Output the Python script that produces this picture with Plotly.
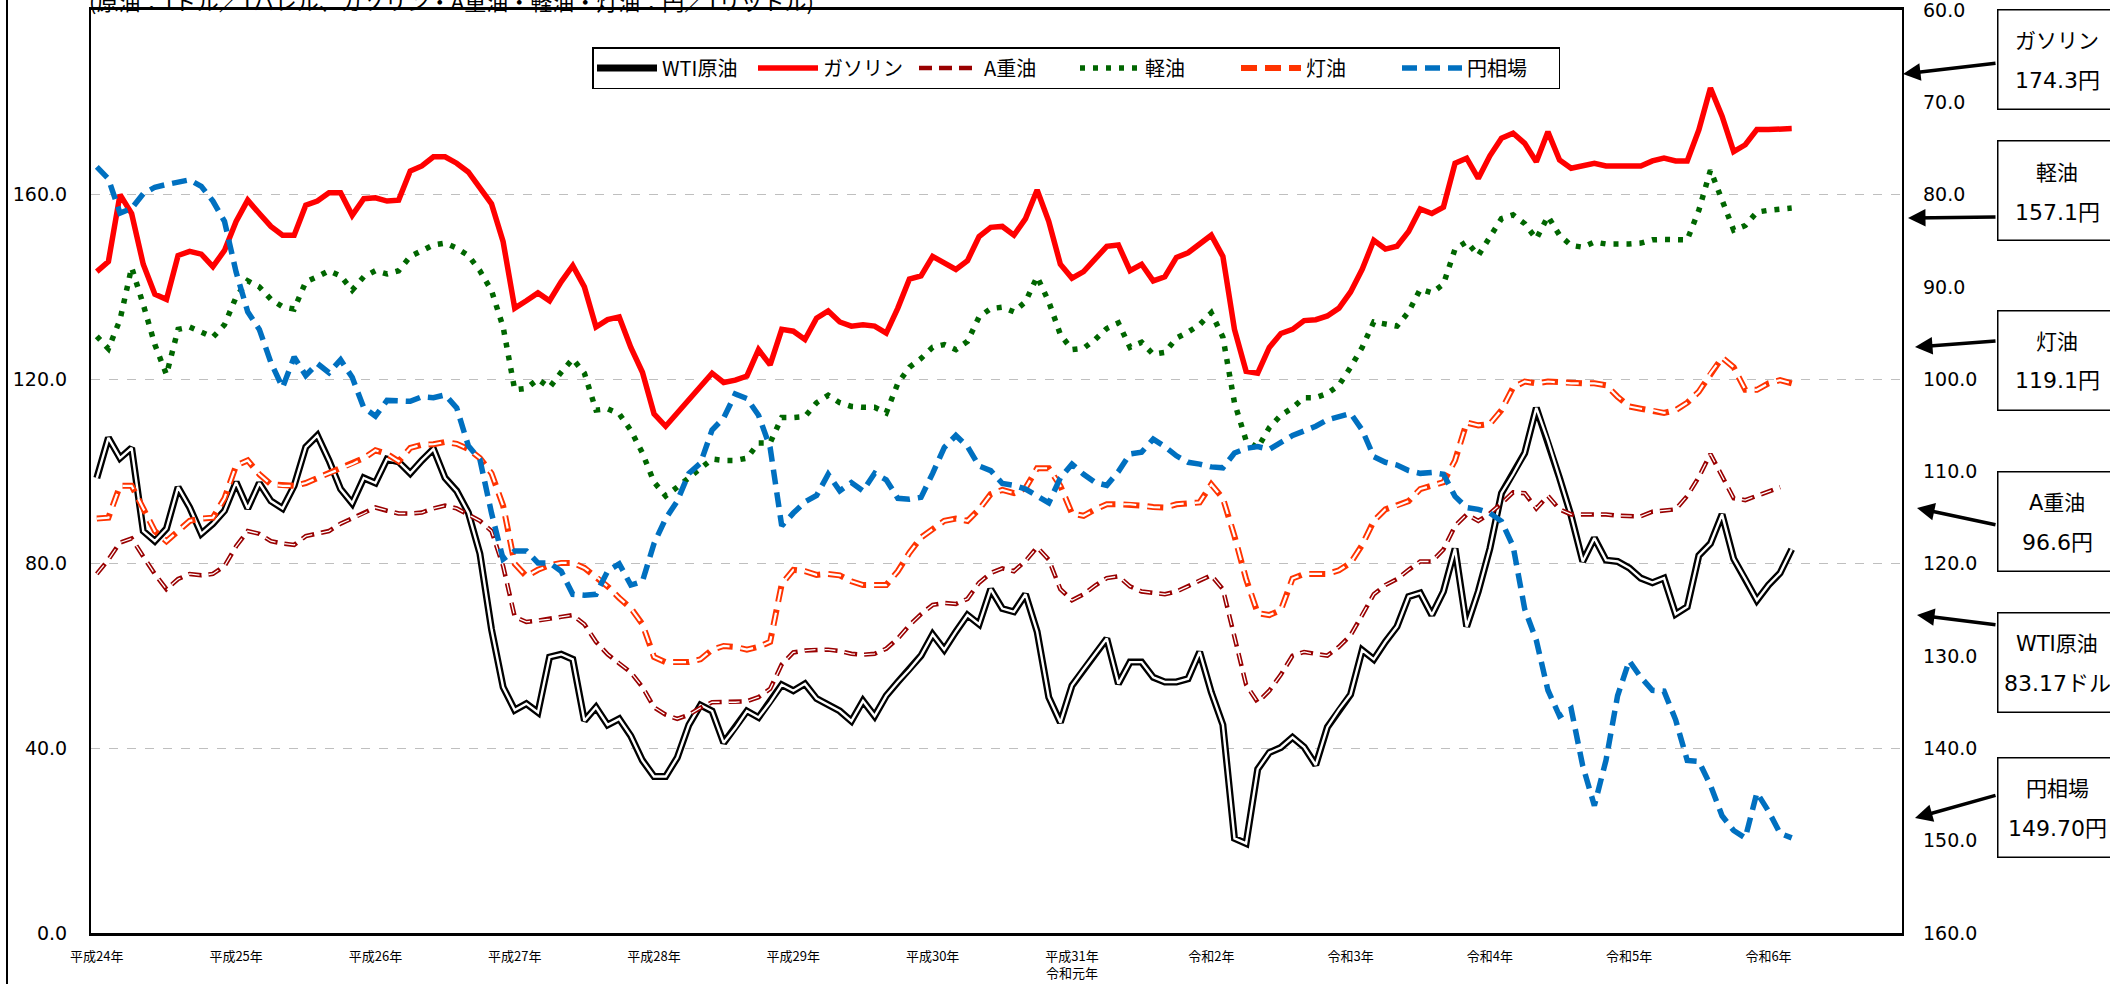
import plotly.graph_objects as go

# ---------------- data ----------------
months = [f"{2012 + k // 12}-{k % 12 + 1:02d}" for k in range(156)]
year_ticks = months[::12]
year_labels = ["平成24年", "平成25年", "平成26年", "平成27年", "平成28年", "平成29年",
               "平成30年", "平成31年<br>令和元年", "令和2年", "令和3年", "令和4年",
               "令和5年", "令和6年"]

wti = [98.6, 107.3, 102.9, 105.1, 87.1, 84.9, 87.6, 96.6, 92.2, 86.5, 88.7, 91.5, 97.7, 92.0, 97.5,
       93.6, 92.0, 96.9, 105.3, 107.8, 102.4, 96.2, 93.1, 98.6, 97.5, 102.7, 102.1,
       99.6, 102.4, 104.9, 98.6, 95.8, 91.1, 82.2, 65.8, 53.3, 48.3, 49.7, 47.8, 59.8, 60.4, 59.3,
       46.0, 48.9, 45.1, 46.4, 42.7, 37.4, 33.9, 33.9, 38.0, 45.1, 49.4,
       48.1, 41.2, 44.4, 48.1, 46.7, 50.0, 53.8, 52.5, 54.0, 50.8, 49.4, 48.1, 45.9, 50.3, 47.0,
       51.4, 54.4, 57.1, 60.1, 64.7, 61.4, 65.3, 68.9, 66.9, 74.5, 70.3,
       69.6, 73.4, 65.3, 51.1, 45.6, 53.6, 57.1, 60.4, 63.8, 54.0, 58.7, 58.7, 55.4, 54.4, 54.4,
       55.1, 60.9, 52.2, 45.1, 20.5, 19.4, 35.5, 39.1, 40.2, 42.4, 40.3,
       36.4, 44.6, 48.4, 51.7, 61.3, 59.3, 63.1, 66.4, 72.9, 73.7, 68.9, 74.0, 83.3, 66.4, 74.0,
       83.3, 95.3, 99.4, 104.0, 113.8, 106.7, 98.6, 90.4, 80.5, 85.6, 80.8,
       80.5, 79.1, 76.9, 75.9, 76.9, 69.1, 70.7, 81.8, 84.4, 90.7, 81.1, 76.7, 72.1, 75.4, 78.0, 83.17]

gasoline = [143.3, 145.5, 160.0, 155.9, 144.9, 138.4, 137.3, 146.8, 147.7, 147.1, 144.4, 147.9, 154.2,
            158.8, 155.9, 153.1, 151.2, 151.2, 157.7, 158.6, 160.4, 160.4, 155.5, 159.1, 159.3, 158.6, 158.8,
            165.1, 166.2, 168.2, 168.2, 166.8, 164.9, 161.3, 158.0, 149.8, 135.4, 137.0, 138.7, 137.0,
            141.1, 144.6, 140.0, 131.3, 132.9, 133.5, 126.9, 121.5, 112.5, 109.8, 112.7, 115.5, 118.2,
            121.3, 119.3, 119.8, 120.7, 126.4, 123.1, 130.8, 130.4, 128.6, 133.2, 134.8, 132.4, 131.5,
            131.8, 131.5, 130.0, 135.4, 141.7, 142.4, 146.6, 145.3, 143.8, 145.7, 150.9, 152.9, 153.1,
            151.2, 154.8, 161.0, 154.2, 144.9, 141.9, 143.3, 146.0, 148.8, 149.1, 143.5, 144.9, 141.3,
            142.2, 146.4, 147.4, 149.3, 151.2, 146.6, 130.8, 121.7, 121.3, 126.9, 129.9, 130.8, 132.7,
            132.9, 133.7, 135.4, 138.9, 143.8, 150.1, 148.2, 148.8, 152.0, 156.9, 155.9, 157.3, 166.8,
            167.9, 163.5, 168.4, 172.2, 173.3, 171.1, 167.1, 173.6, 167.5, 165.7, 166.4, 166.8, 166.2,
            166.2, 166.2, 166.2, 167.3, 167.9, 167.3, 167.3, 174.0, 183.1, 177.0, 169.3, 170.8, 174.1,
            174.1, 174.1, 174.3]

a_heavy = [77.8, 80.9, 84.6, 85.5, 81.6, 77.8, 74.5, 76.7, 77.8, 77.5, 77.8, 79.5, 83.8, 87.1, 86.5,
           84.9, 84.4, 84.1, 86.0, 86.5, 87.1, 88.7, 89.8, 90.9, 92.2, 91.5, 90.9,
           90.9, 91.1, 92.0, 92.6, 92.0, 90.7, 89.3, 87.1, 79.5, 68.5, 67.4, 67.7, 68.0, 68.5, 68.9,
           66.9, 63.1, 60.4, 58.4, 56.5, 53.3, 48.9, 47.3, 46.4, 47.3, 48.8,
           50.0, 50.0, 50.0, 50.2, 51.1, 52.9, 58.2, 60.8, 61.2, 61.4, 61.4, 61.1, 60.5, 60.3, 60.5,
           61.6, 63.8, 66.7, 69.1, 71.1, 71.5, 71.3, 72.4, 75.9, 78.0, 79.0,
           78.4, 80.6, 83.6, 80.9, 74.5, 72.1, 73.4, 75.3, 76.9, 77.3, 75.1, 74.0, 73.7, 73.4, 74.0,
           75.1, 76.4, 77.5, 74.5, 64.2, 53.8, 50.0, 52.5, 56.0, 60.1, 60.9,
           60.4, 60.1, 62.0, 64.5, 68.9, 73.4, 75.4, 76.7, 78.7, 80.5, 80.5, 83.1, 88.2, 90.7, 89.3,
           90.9, 93.1, 95.5, 95.3, 92.0, 94.7, 91.8, 90.7, 90.7, 90.7, 90.7,
           90.4, 90.4, 90.3, 91.3, 91.5, 91.8, 94.7, 98.8, 103.8, 99.1, 94.2, 93.8, 94.7, 95.7, 96.6]

diesel = [129.3, 126.6, 132.9, 144.2, 136.2, 127.5, 121.0, 130.8, 131.3, 130.2, 129.1, 131.8, 137.8,
          141.3, 140.0, 137.3, 135.7, 135.2, 141.1, 142.2, 143.5, 142.4, 139.3, 142.2, 143.5, 142.8, 143.5,
          146.6, 147.9, 149.1, 149.5, 148.4, 146.8, 143.5, 139.2, 131.3, 117.7, 118.0, 120.0, 118.2,
          121.5, 124.4, 121.3, 113.3, 113.6, 112.5, 108.9, 104.0, 97.7, 94.7, 96.6, 98.6, 100.7,
          102.7, 102.4, 102.4, 102.9, 106.2, 106.2, 111.7, 111.7, 111.9, 114.9, 116.5, 114.9, 114.1,
          113.9, 113.9, 112.7, 119.1, 122.6, 124.5, 126.9, 127.5, 126.4, 128.2, 133.5, 135.3, 135.6,
          134.6, 136.8, 142.2, 136.8, 129.7, 126.4, 126.7, 128.6, 131.0, 132.2, 126.9, 128.0, 125.4,
          125.8, 128.9, 130.2, 131.8, 134.4, 129.1, 114.9, 106.7, 105.1, 109.5, 112.2, 113.8, 116.0,
          116.0, 116.9, 118.7, 122.6, 126.9, 132.4, 131.8, 131.5, 134.6, 139.5, 138.7, 140.6, 148.2,
          149.8, 146.8, 150.9, 154.8, 155.6, 153.7, 150.4, 155.3, 151.2, 149.0, 148.6, 149.7, 149.3,
          149.2, 149.3, 149.5, 150.2, 150.3, 150.3, 150.2, 156.6, 165.3, 158.8, 152.3, 153.3, 156.2,
          156.6, 156.8, 157.1]

kerosene = [89.8, 90.0, 96.9, 96.9, 92.0, 87.1, 84.9, 87.1, 89.3, 89.8, 90.0, 94.2, 101.3, 102.4, 99.4,
            97.2, 96.9, 96.9, 97.5, 98.6, 99.6, 100.7, 101.6, 102.9, 104.6, 103.8, 102.2,
            105.1, 105.8, 105.9, 106.4, 106.0, 104.9, 102.9, 99.6, 92.6, 80.0, 77.3, 78.7, 79.7, 80.2,
            80.2, 79.1, 77.3, 75.1, 72.6, 70.4, 66.9, 59.8, 58.7, 58.7, 58.7, 59.3,
            61.4, 62.2, 62.0, 61.4, 62.0, 63.1, 75.6, 78.7, 78.4, 77.6, 77.8, 77.5, 76.2, 75.4, 75.4,
            75.4, 78.4, 82.4, 85.7, 87.6, 89.3, 89.8, 89.3, 91.8, 95.1, 96.0,
            95.3, 96.4, 100.7, 100.7, 96.9, 90.9, 90.4, 91.8, 92.9, 92.9, 92.9, 92.6, 92.3, 92.2, 92.9,
            93.1, 93.3, 97.2, 94.2, 86.0, 76.7, 69.3, 68.9, 70.0, 76.8, 77.8,
            77.8, 77.8, 78.6, 80.2, 84.1, 89.3, 91.8, 92.6, 93.6, 96.2, 96.9, 97.7, 102.4, 110.6, 110.0,
            110.3, 113.3, 118.2, 119.5, 119.1, 119.5, 119.3, 119.1, 119.1, 119.1, 118.7,
            116.2, 114.1, 113.6, 113.3, 112.7, 113.3, 114.9, 117.3, 121.3, 124.7, 122.6, 117.7, 117.7,
            119.1, 119.8, 119.1]

yen = [77.0, 78.3, 82.0, 81.5, 79.9, 79.2, 78.9, 78.6, 78.4, 79.1, 80.7, 82.9, 88.4, 92.7, 94.6, 98.2,
       100.9, 97.6, 99.6, 98.3, 99.3, 97.9, 99.8, 103.1, 104.0, 102.3, 102.3,
       102.4, 101.9, 102.0, 101.7, 103.1, 107.2, 108.7, 114.5, 119.5, 118.6, 118.6, 119.9, 119.9,
       120.8, 123.3, 123.4, 123.3, 120.8, 120.0, 122.3, 121.9, 117.8, 115.1, 113.2, 110.2, 109.1,
       105.5, 104.2, 101.6, 102.1, 103.9, 107.4, 115.9, 114.5, 113.3, 112.6, 110.3, 112.1, 111.2,
       112.1, 110.2, 110.9, 112.9, 113.0, 112.8, 110.2, 107.4, 106.1, 107.3, 109.4, 109.9, 111.3,
       111.5, 111.9, 112.7, 113.4, 110.7, 109.2, 110.3, 111.2, 111.5, 110.0, 108.1, 107.9, 106.5,
       107.3, 108.3, 109.0, 109.2, 109.5, 109.6, 108.0, 107.5, 107.3, 107.6, 106.9, 106.1, 105.6,
       105.1, 104.4, 104.1, 103.7, 105.5, 108.4, 109.0, 109.3, 109.9, 110.2, 110.1, 110.3, 112.7,
       113.9, 114.1, 114.5, 115.4, 118.1, 124.9, 128.3, 133.7, 136.5, 135.7, 141.9, 146.2, 141.3,
       134.3, 130.5, 132.3, 133.7, 133.8, 136.9, 141.3, 141.4, 144.0, 147.3, 148.9, 149.7, 144.8,
       146.8, 149.2, 149.70]

names = ["WTI原油", "ガソリン", "A重油", "軽油", "灯油", "円相場"]

# ---------------- figure ----------------
JP = "Noto Sans CJK JP"
VF = "DejaVu Sans, Noto Sans CJK JP"

fig = go.Figure()


def add(y, name, color, width, dash="solid", axis="y", legend=True):
    fig.add_trace(go.Scatter(
        x=months[:len(y)], y=y, name=name, mode="lines", yaxis=axis,
        line=dict(color=color, width=width, dash=dash),
        showlegend=legend, legendgroup=name, hoverinfo="skip"))


add(wti, names[0], "#000000", 7)
add(wti, names[0], "#FFFFFF", 2.4, legend=False)
add(gasoline, names[1], "#FF0000", 5.5)
add(a_heavy, names[2], "#990000", 4.5, "13px,7px")
add(a_heavy, names[2], "#FFFFFF", 1.3, "11px,9px", legend=False)
add(diesel, names[3], "#006600", 5.5, "5px,8px")
add(kerosene, names[4], "#FF3300", 6, "16px,8px")
add(kerosene, names[4], "#FFFFFF", 2.2, "13px,11px", legend=False)
add(yen, names[5], "#0070C0", 5.5, "15px,8px", axis="y2")

# plot area in pixels: x 91..1902, y 10..933
L, R, T, B = 91, 1902, 10, 933
W, H = 2110, 984


def px(xp):
    return (xp - L) / (R - L)


def py(yp):
    return (B - yp) / (B - T)


fig.update_layout(
    template="none",
    width=W, height=H,
    margin=dict(l=L, r=W - R, t=T, b=H - B, pad=0),
    paper_bgcolor="white", plot_bgcolor="white",
    font=dict(family=JP, color="black"),
    xaxis=dict(type="category", categoryorder="array", categoryarray=months,
               range=[-0.5, len(months) - 0.5], tickvals=year_ticks, ticktext=year_labels,
               showgrid=False, showline=True, linecolor="black", linewidth=2.5, mirror=True,
               ticks="", ticklabelstandoff=10, tickfont=dict(family=JP, size=13, color="black"),
               zeroline=False, fixedrange=True),
    yaxis=dict(range=[0, 200], tickvals=[0, 40, 80, 120, 160], tickformat=".1f",
               showgrid=True, gridcolor="#BFBFBF", griddash="dash", gridwidth=1,
               showline=True, linecolor="black", linewidth=2, mirror=True,
               ticks="", ticklabelstandoff=18, tickfont=dict(family=VF, size=19, color="black"),
               zeroline=False),
    yaxis2=dict(overlaying="y", side="right", range=[160, 60],
                tickvals=list(range(60, 161, 10)), tickformat=".1f", showgrid=False,
                showline=False, ticks="", ticklabelstandoff=20, ticklabeloverflow="allow",
                tickfont=dict(family=VF, size=19, color="black"), zeroline=False),
    legend=dict(orientation="h", x=px(1076), xanchor="center", y=py(47), yanchor="top",
                bordercolor="black", borderwidth=1.5, bgcolor="white",
                font=dict(family=JP, size=20, color="black"), itemwidth=60,
                entrywidth=86, tracegroupgap=0),
    showlegend=True,
)

# title (partly cut off at the top, as in the reference)
fig.add_annotation(text="(原油：1ドル／1バレル、ガソリン・A重油・軽油・灯油：円／1リットル)",
                   xref="paper", yref="paper", x=px(87), y=py(0), xanchor="left",
                   yanchor="middle", showarrow=False, font=dict(family=JP, size=22, color="black"))

# outer left frame line
fig.add_shape(type="line", xref="paper", yref="paper", x0=px(7), x1=px(7), y0=py(H), y1=py(0),
              line=dict(color="black", width=2))

# callout boxes with latest values
box_names = [names[1], names[3], names[4], names[2], names[0], names[5]]
box_values = [f"{gasoline[-1]:.1f}円", f"{diesel[-1]:.1f}円", f"{kerosene[-1]:.1f}円",
              f"{a_heavy[-1]:.1f}円", f"{wti[-1]:.2f}ドル", f"{yen[-1]:.2f}円"]
box_cy = [59, 191, 360, 521, 662, 807]
arrow_tail = [(1997, 63), (1997, 217), (1997, 341), (1997, 525), (1997, 625), (1997, 795)]
arrow_tip = [(1903, 74), (1908, 218), (1915, 347), (1917, 508), (1917, 615), (1915, 818)]
box_cx = 2057

for (tx, ty), (hx, hy) in zip(arrow_tail, arrow_tip):
    fig.add_annotation(text="", xref="paper", yref="paper", x=px(hx), y=py(hy),
                       ax=tx - hx, ay=ty - hy, showarrow=True, arrowhead=2, arrowsize=1,
                       arrowwidth=3.5, arrowcolor="black")

for nm, val, cy in zip(box_names, box_values, box_cy):
    fig.add_annotation(text=" ", xref="paper", yref="paper", x=px(box_cx), y=py(cy),
                       xanchor="center", yanchor="middle", showarrow=False,
                       width=117, height=98, borderpad=0, bordercolor="black", borderwidth=1.5,
                       bgcolor="white")
    fig.add_annotation(text=nm, xref="paper", yref="paper", x=px(box_cx), y=py(cy - 18),
                       xanchor="center", yanchor="middle", showarrow=False,
                       font=dict(family=VF, size=21, color="black"))
    fig.add_annotation(text=val, xref="paper", yref="paper", x=px(box_cx), y=py(cy + 21),
                       xanchor="center", yanchor="middle", showarrow=False,
                       font=dict(family=VF, size=22, color="black"))

fig.write_html("out.html", config={"displayModeBar": False},
               post_script="document.body.style.margin='0';document.body.style.overflow='hidden';")
